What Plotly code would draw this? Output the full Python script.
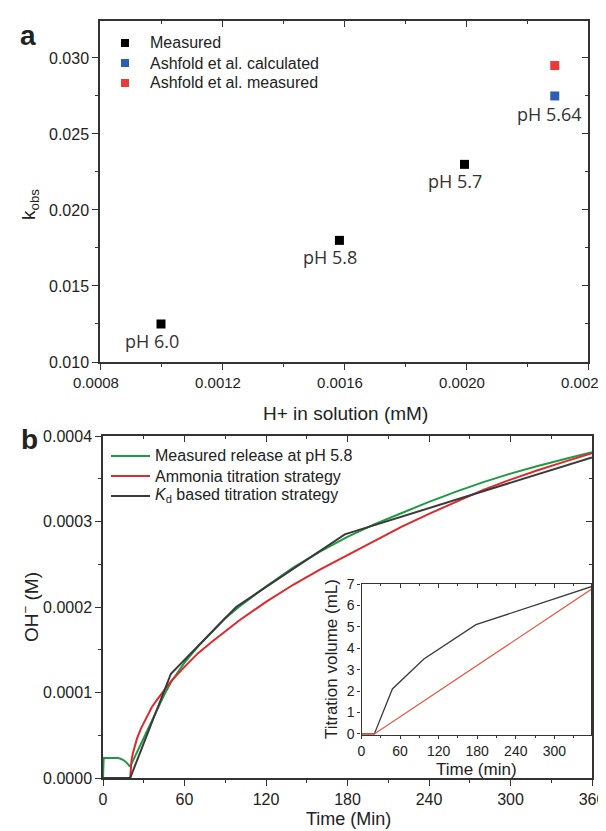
import plotly.graph_objects as go

W, H = 606, 831

# ---------------- Panel a data ----------------
h_measured = [0.001000, 0.001585, 0.001995]
k_measured = [0.0125, 0.0180, 0.0230]
ph_measured = ["pH 6.0", "pH 5.8", "pH 5.7"]
h_ashfold = [0.002291]
k_ashfold_calc = [0.0275]
k_ashfold_meas = [0.0295]
ph_ashfold = ["pH 5.64"]
a_xticks = [0.0008, 0.0012, 0.0016, 0.0020, 0.0024]
a_yticks = [0.010, 0.015, 0.020, 0.025, 0.030]
a_legend = ["Measured", "Ashfold et al. calculated", "Ashfold et al. measured"]

# ---------------- Panel b data ----------------
t_meas = [0, 0.5, 3, 6, 9, 11, 13, 15, 17, 18.5, 19.5, 20.5, 22, 25, 30, 35, 40, 45, 50,
          55, 60, 70, 80, 90, 100, 120, 140, 160, 180, 200, 220, 240, 260, 280, 300,
          320, 340, 360]
oh_meas = [0, 0.0000235, 0.0000235, 0.0000235, 0.0000235, 0.0000234, 0.0000225,
           0.0000210, 0.0000185, 0.0000160, 0.0000140, 0.0000150, 0.0000200, 0.0000300,
           0.0000470, 0.0000640, 0.0000800, 0.0000970, 0.0001120, 0.0001240, 0.0001350,
           0.0001540, 0.0001700, 0.0001870, 0.0002000, 0.0002240, 0.0002460, 0.0002650,
           0.0002820, 0.0002970, 0.0003100, 0.0003230, 0.0003350, 0.0003460, 0.0003560,
           0.0003650, 0.0003730, 0.0003810]

t_nh3 = [20, 20.5, 21, 22, 23.5, 25, 28, 32, 36, 40, 45, 50, 60, 70, 80, 90, 100, 120,
         140, 160, 180, 200, 220, 240, 260, 280, 300, 320, 340, 360]
oh_nh3 = [0, 0.000015, 0.000021, 0.000029, 0.000038, 0.000046, 0.000058, 0.000071,
          0.000083, 0.000092, 0.000103, 0.000113, 0.000130, 0.000146, 0.000159, 0.000172,
          0.000184, 0.000206, 0.000226, 0.000244, 0.000261, 0.000278, 0.000294, 0.000309,
          0.000323, 0.000337, 0.000349, 0.000360, 0.000370, 0.000380]

t_kd = [0, 20, 50, 98, 178, 360]
oh_kd = [0, 0, 0.000122, 0.000200, 0.000285, 0.000375]

b_legend = ["Measured release at pH 5.8", "Ammonia titration strategy",
            "<i>K</i><sub>d</sub> based titration strategy"]

# inset: titration volume
t_vol_kd = [0, 20, 48, 97, 178, 360]
vol_kd = [0, 0, 2.1, 3.5, 5.1, 6.9]
t_vol_nh3 = [0, 20, 360]
vol_nh3 = [0, 0, 6.8]

GREEN = "#1e9a44"
RED = "#e0282c"
DARK = "#3a3a3a"
BLUE = "#2b5fb4"
RED_PT = "#e83a3a"
AXC = "#333333"
FONT = "Liberation Sans, Arial, sans-serif"
TXT = "#222222"


def px(x):
    return x / W


def py(y):
    return 1 - y / H


fig = go.Figure()

# Panel a markers
fig.add_trace(go.Scatter(x=h_measured, y=k_measured, mode="markers", name=a_legend[0],
                         marker=dict(symbol="square", size=9, color="black"),
                         xaxis="x", yaxis="y", showlegend=False))
fig.add_trace(go.Scatter(x=h_ashfold, y=k_ashfold_calc, mode="markers", name=a_legend[1],
                         marker=dict(symbol="square", size=9, color=BLUE),
                         xaxis="x", yaxis="y", showlegend=False))
fig.add_trace(go.Scatter(x=h_ashfold, y=k_ashfold_meas, mode="markers", name=a_legend[2],
                         marker=dict(symbol="square", size=9, color=RED_PT),
                         xaxis="x", yaxis="y", showlegend=False))

# Panel b lines
fig.add_trace(go.Scatter(x=t_meas, y=oh_meas, mode="lines", name=b_legend[0],
                         line=dict(color=GREEN, width=2), xaxis="x2", yaxis="y2",
                         showlegend=False))
fig.add_trace(go.Scatter(x=t_nh3, y=oh_nh3, mode="lines", name=b_legend[1],
                         line=dict(color=RED, width=2), xaxis="x2", yaxis="y2",
                         showlegend=False))
fig.add_trace(go.Scatter(x=t_kd, y=oh_kd, mode="lines", name=b_legend[2],
                         line=dict(color=DARK, width=2), xaxis="x2", yaxis="y2",
                         showlegend=False))

# Inset
fig.add_trace(go.Scatter(x=t_vol_kd, y=vol_kd, mode="lines", showlegend=False,
                         line=dict(color=DARK, width=1.3), xaxis="x3", yaxis="y3"))
fig.add_trace(go.Scatter(x=t_vol_nh3, y=vol_nh3, mode="lines", showlegend=False,
                         line=dict(color="#e8503c", width=1.2), xaxis="x3", yaxis="y3"))

# empty traces to instantiate overlay axes (inside mirror ticks)
for xa, ya in [("x4", "y"), ("x", "y4"), ("x5", "y2"), ("x2", "y5"), ("x6", "y3")]:
    fig.add_trace(go.Scatter(x=[None], y=[None], showlegend=False, hoverinfo="skip",
                             xaxis=xa, yaxis=ya))

tickfont = dict(family=FONT, size=16, color=TXT)
common = dict(showgrid=False, zeroline=False, showline=True, linecolor=AXC, linewidth=1.5,
              ticks="outside", ticklen=6, tickwidth=1.3, tickcolor=AXC, tickfont=tickfont,
              mirror=True, automargin=False)

a_dom_x = [px(92), px(580)]
a_dom_y = [py(354), py(13)]
b_dom_x = [px(95), px(584)]
b_dom_y = [py(770), py(428)]
i_dom_x = [px(353.5), px(583)]
i_dom_y = [py(727), py(576)]

a_xr = [0.0008, 0.0024]
a_yr = [0.010, 0.03243]
b_xr = [0, 360]
b_yr = [0, 0.0004]
i_xr = [0, 357]
i_yr = [-0.05, 7]

overlay = dict(showgrid=False, zeroline=False, showline=False, showticklabels=False,
               ticks="inside", ticklen=6, tickwidth=1.3, tickcolor=AXC, automargin=False)

inset_common = {**common, "ticklen": 3, "linewidth": 1.2,
                "tickfont": dict(family=FONT, size=14, color=TXT)}

fig.update_layout(
    width=W, height=H, margin=dict(l=0, r=0, t=0, b=0),
    paper_bgcolor="white", plot_bgcolor="white", showlegend=False,
    font=dict(family=FONT, size=16, color=TXT),
    xaxis=dict(domain=a_dom_x, range=a_xr, anchor="y", tickvals=a_xticks,
               tickformat=".4f", ticklabelshift=-4,
               minor=dict(ticks="outside", ticklen=3, dtick=0.0002, tick0=0.0008,
                          tickcolor=AXC),
               **{**common, "tickfont": dict(family=FONT, size=15, color=TXT)}),
    yaxis=dict(domain=a_dom_y, range=a_yr, anchor="x", tickvals=a_yticks,
               tickformat=".3f",
               minor=dict(ticks="outside", ticklen=3, dtick=0.0025, tick0=0.010,
                          tickcolor=AXC), **common),
    xaxis4=dict(overlaying="x", anchor="y", side="top", range=a_xr, tickvals=a_xticks,
                minor=dict(ticks="inside", ticklen=3, dtick=0.0002, tick0=0.0008,
                           tickcolor=AXC), **overlay),
    yaxis4=dict(overlaying="y", anchor="x", side="right", range=a_yr, tickvals=a_yticks,
                minor=dict(ticks="inside", ticklen=3, dtick=0.0025, tick0=0.010,
                           tickcolor=AXC), **overlay),
    xaxis2=dict(domain=b_dom_x, range=b_xr, anchor="y2", dtick=60, tick0=0,
                minor=dict(ticks="outside", ticklen=3, dtick=30, tickcolor=AXC), **common),
    yaxis2=dict(domain=b_dom_y, range=b_yr, anchor="x2", dtick=0.0001, tick0=0,
                tickformat=".4f",
                minor=dict(ticks="outside", ticklen=3, dtick=0.00005, tickcolor=AXC),
                **common),
    xaxis5=dict(overlaying="x2", anchor="y2", side="top", range=b_xr, dtick=60, tick0=0,
                minor=dict(ticks="inside", ticklen=3, dtick=30, tickcolor=AXC), **overlay),
    yaxis5=dict(overlaying="y2", anchor="x2", side="right", range=b_yr, dtick=0.0001,
                tick0=0, minor=dict(ticks="inside", ticklen=3, dtick=0.00005,
                                    tickcolor=AXC), **overlay),
    xaxis3=dict(domain=i_dom_x, range=i_xr, anchor="y3", tickvals=[0, 60, 120, 180, 240, 300],
                minor=dict(ticks="outside", ticklen=2, dtick=30, tickcolor=AXC),
                **inset_common),
    yaxis3=dict(domain=i_dom_y, range=i_yr, anchor="x3", tickvals=[0, 1, 2, 3, 4, 5, 6, 7],
                **inset_common),
    xaxis6=dict(overlaying="x3", anchor="y3", side="top", range=i_xr,
                tickvals=[0, 60, 120, 180, 240, 300],
                minor=dict(ticks="inside", ticklen=2, dtick=30, tickcolor=AXC),
                **{**overlay, "ticklen": 4}),
)

ann = []
shapes = []
# pH labels anchored at data points
ph_font = dict(family="Open Sans", size=18, color="#333")
for hx, ky, lab in zip(h_measured, k_measured, ph_measured):
    ann.append(dict(x=hx, y=ky, xref="x", yref="y", text=lab, showarrow=False,
                    xanchor="center", yanchor="middle",
                    xshift=-9, yshift=-17, font=ph_font))
for hx, ky, lab in zip(h_ashfold, k_ashfold_calc, ph_ashfold):
    ann.append(dict(x=hx, y=ky, xref="x", yref="y", text=lab, showarrow=False,
                    xanchor="center", yanchor="middle",
                    xshift=-5, yshift=-18, font=ph_font))

# legend of panel a (drawn by hand to match spacing)
leg_font = dict(family=FONT, size=16, color=TXT)
for i, (lab, col) in enumerate(zip(a_legend, ["black", BLUE, RED_PT])):
    yc = 35 + 20 * i
    shapes.append(dict(type="rect", xref="paper", yref="paper",
                       x0=px(113), x1=px(121), y0=py(yc + 4), y1=py(yc - 4),
                       fillcolor=col, line=dict(width=0)))
    ann.append(dict(x=px(140), y=py(yc), xref="paper", yref="paper", text=lab,
                    showarrow=False, xanchor="left", yanchor="middle", font=leg_font))

# legend of panel b
for i, (lab, col) in enumerate(zip(b_legend, [GREEN, RED, DARK])):
    yc = 448 + 20 * i
    shapes.append(dict(type="line", xref="paper", yref="paper",
                       x0=px(103), x1=px(142), y0=py(yc), y1=py(yc),
                       line=dict(color=col, width=2)))
    ann.append(dict(x=px(145), y=py(yc), xref="paper", yref="paper", text=lab,
                    showarrow=False, xanchor="left", yanchor="middle", font=leg_font))

title_font = dict(family=FONT, size=19, color=TXT)
inset_title_font = dict(family=FONT, size=17, color=TXT)
for x, y, text, ang, f in [
    (20, 27, "<b>a</b>", 0, dict(family=FONT, size=28, color=TXT)),
    (21, 432, "<b>b</b>", 0, dict(family=FONT, size=28, color=TXT)),
    (22, 197, "k<sub>obs</sub>", -90, title_font),
    (337, 405, "H+ in solution (mM)", 0, title_font),
    (22, 599, "OH<sup>−</sup> (M)", -90, title_font),
    (340, 811, "Time (Min)", 0, dict(family=FONT, size=18, color=TXT)),
    (323, 651, "Titration volume (mL)", -90, inset_title_font),
    (468, 761, "Time (min)", 0, inset_title_font),
]:
    ann.append(dict(x=px(x), y=py(y), xref="paper", yref="paper", text=text,
                    showarrow=False, textangle=ang, xanchor="center", yanchor="middle",
                    font=f))

fig.update_layout(annotations=ann, shapes=shapes)

fig.write_html("out.html")
